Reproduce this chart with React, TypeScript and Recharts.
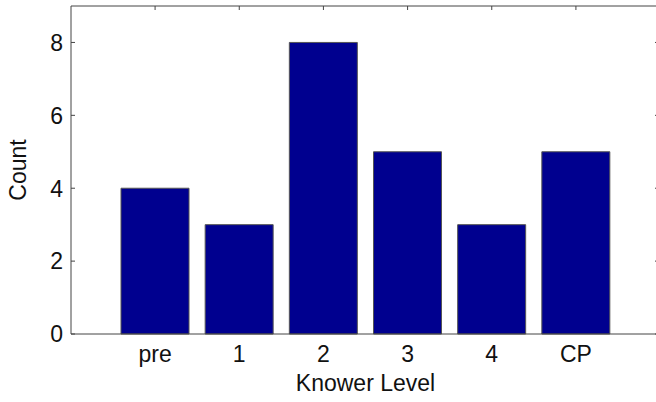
import React from 'react';
import { ComposedChart, Bar, XAxis, YAxis, ReferenceLine } from 'recharts';

const levels = ['pre', '1', '2', '3', '4', 'CP'];
const counts = [4, 3, 8, 5, 3, 5];
const yTicks = [0, 2, 4, 6, 8];
const yMax = 9;

const data = levels.map((level, i) => ({ level, count: counts[i] }));

const FONT = '"Liberation Sans", Arial, sans-serif';
const AXIS = '#444';
const SIZE = 23;
const CHART_W = 660;
const PLOT_TOP = 6;

// y labels plus the small inward ticks on both the left and right edges of the box
const LeftTick = (props: any) => {
  const { x, y, payload } = props;
  const ax = x + 8;
  return (
    <g>
      <line x1={ax} x2={ax + 4} y1={y} y2={y} stroke={AXIS} strokeWidth={1} />
      <line x1={CHART_W - 5} x2={CHART_W} y1={y} y2={y} stroke={AXIS} strokeWidth={1} />
      <text x={x} y={y} dy="0.36em" textAnchor="end" fontSize={SIZE} fontFamily={FONT} fill="#111">
        {payload.value}
      </text>
    </g>
  );
};

// category labels plus the inward tick on the top edge (bottom ones sit behind the bars)
const BottomTick = (props: any) => {
  const { x, y, payload } = props;
  return (
    <g>
      <line x1={x} x2={x} y1={PLOT_TOP} y2={PLOT_TOP + 4} stroke={AXIS} strokeWidth={1} />
      <text x={x} y={y + 20} textAnchor="middle" fontSize={SIZE} fontFamily={FONT} fill="#111">
        {payload.value}
      </text>
    </g>
  );
};

const App: React.FC = () => {
  return (
    <div style={{ position: 'absolute', left: 0, top: 0, width: 656, height: 402, overflow: 'hidden', background: '#fff' }}>
      <ComposedChart width={CHART_W} height={402} data={data} margin={{ top: PLOT_TOP, right: 0, bottom: 0, left: 0 }}>
        <XAxis
          dataKey="level"
          height={68}
          padding={{ left: 42, right: 42 }}
          axisLine={{ stroke: AXIS }}
          tickLine={false}
          tick={<BottomTick />}
          interval={0}
          label={{
            content: ({ viewBox }: any) => (
              <text x={viewBox.x + viewBox.width / 2} y={viewBox.y + 57} textAnchor="middle" fontSize={SIZE} fontFamily={FONT} fill="#111">
                Knower Level
              </text>
            ),
          }}
        />
        <YAxis
          width={71}
          domain={[0, yMax]}
          ticks={yTicks}
          axisLine={{ stroke: AXIS }}
          tickLine={false}
          tick={<LeftTick />}
          label={{
            content: ({ viewBox }: any) => (
              <text
                x={18}
                y={viewBox.y + viewBox.height / 2}
                transform={`rotate(-90, 18, ${viewBox.y + viewBox.height / 2})`}
                dy="0.36em"
                textAnchor="middle"
                fontSize={SIZE}
                fontFamily={FONT}
                fill="#111"
              >
                Count
              </text>
            ),
          }}
        />
        <ReferenceLine y={yMax} stroke={AXIS} strokeWidth={1} ifOverflow="visible" />
        <Bar
          dataKey="count"
          fill="#00008F"
          stroke="#555"
          strokeWidth={1}
          barSize={68}
          isAnimationActive={false}
        />
      </ComposedChart>
    </div>
  );
};

export default App;
